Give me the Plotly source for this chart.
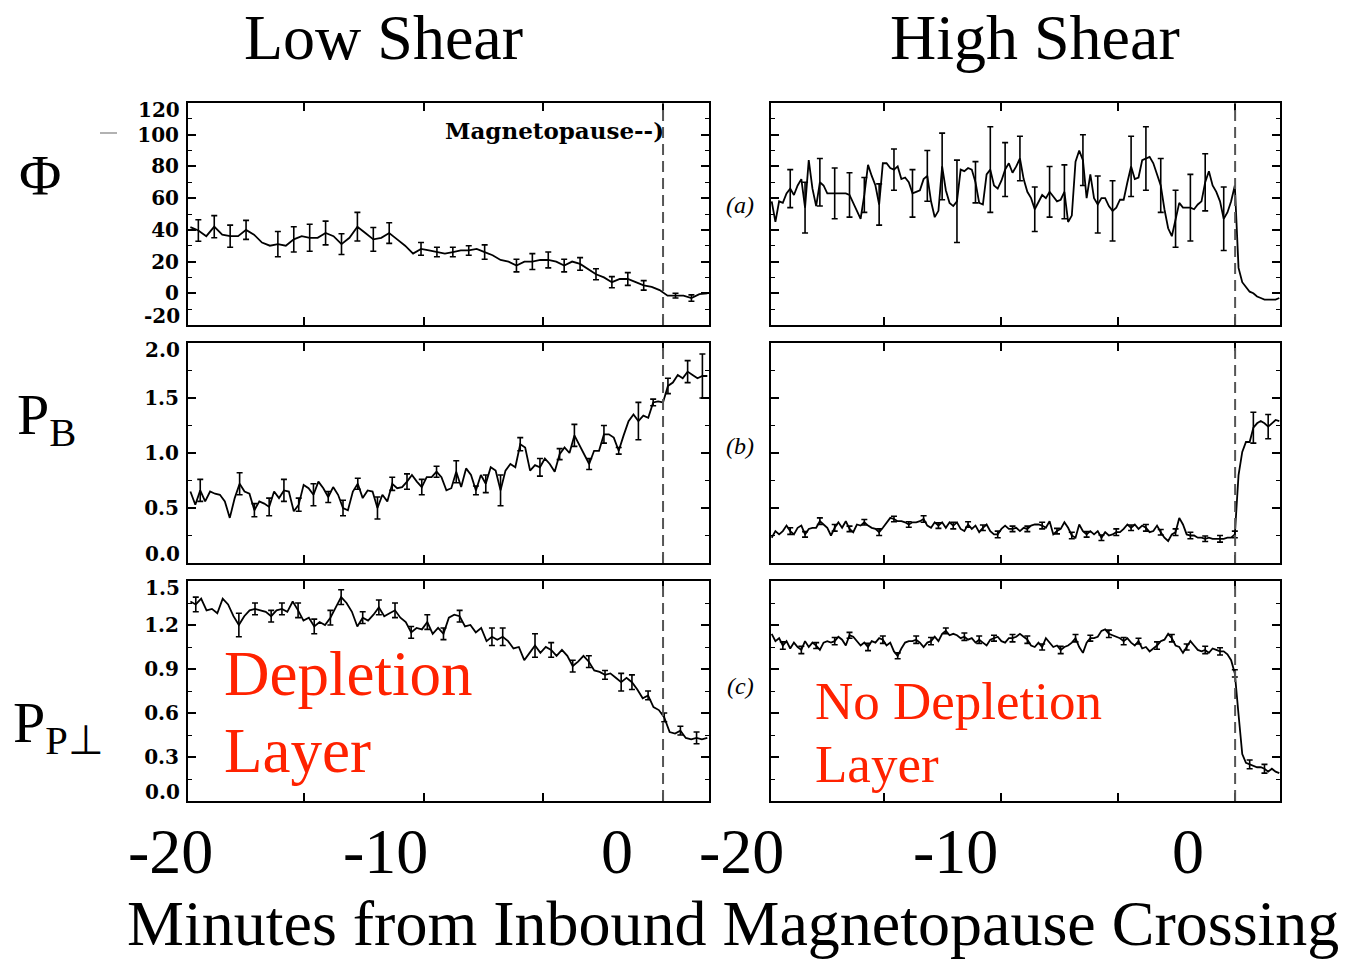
import numpy as np
import plotly.graph_objects as go

# ---------------- DATA ----------------
# Low shear (left column)
phi_low = [41.7, 39.6, 36, 42, 37, 36, 36, 40, 37, 32, 30, 31, 30, 34, 36, 35, 35, 38, 36, 31,
           35, 42, 38, 34, 35, 38, 34, 30, 25, 28, 27, 26, 25, 26, 27, 27, 28, 26, 24, 21,
           20, 17.5, 20, 20, 21, 21, 20, 17.5, 20, 18.5, 15, 12, 10, 7, 9, 9, 7, 5, 4, 2,
           -1.5, -1.5, -1.5, -3, -0.5, 0]
phi_low_err_idx = [1, 3, 5, 7, 11, 13, 15, 17, 19, 21, 23, 25, 29, 31, 33, 35, 37, 41, 43, 45,
                   47, 49, 51, 53, 55, 57, 61, 63]
phi_low_err = [6.8, 7, 7, 6, 8, 8, 8.5, 7.5, 6.5, 9, 7.5, 6.5, 4, 3, 3, 3, 4.5, 4, 5, 5,
               4, 4, 3.5, 3.5, 4, 3, 1.5, 2]

pb_low = [0.65, 0.53, 0.66, 0.56, 0.65, 0.63, 0.62, 0.56, 0.41, 0.59, 0.72, 0.65, 0.63, 0.48, 0.56,
          0.54, 0.51, 0.65, 0.59, 0.66, 0.65, 0.47, 0.53, 0.71, 0.68, 0.62, 0.74, 0.68, 0.60, 0.69,
          0.62, 0.50, 0.48, 0.65, 0.72, 0.59, 0.66, 0.65, 0.50, 0.62, 0.56, 0.72, 0.68, 0.69, 0.74,
          0.80, 0.74, 0.69, 0.78, 0.78, 0.83, 0.78, 0.66, 0.68, 0.83, 0.69, 0.86, 0.80, 0.66, 0.80,
          0.72, 0.87, 0.84, 0.66, 0.84, 0.90, 0.87, 1.08, 1.05, 0.84, 0.89, 0.87, 0.95, 0.90, 0.83,
          0.99, 1.05, 1.00, 1.16, 1.07, 0.98, 0.90, 1.02, 1.02, 1.17, 1.17, 1.14, 1.02, 1.16, 1.29,
          1.35, 1.29, 1.34, 1.32, 1.46, 1.47, 1.46, 1.61, 1.64, 1.71, 1.68, 1.74, 1.71, 1.68, 1.70,
          1.70]
pb_low_err_idx = [2, 10, 13, 16, 19, 22, 25, 28, 31, 34, 38, 41, 44, 47, 50, 54, 58, 60, 63, 67,
                  71, 75, 78, 81, 84, 87, 91, 94, 97, 101, 104]
pb_low_err = [0.1, 0.1, 0.06, 0.08, 0.1, 0.06, 0.1, 0.05, 0.07, 0.05, 0.1, 0.06, 0.07, 0.07, 0.05,
              0.1, 0.04, 0.08, 0.14, 0.06, 0.08, 0.05, 0.1, 0.05, 0.08, 0.03, 0.17, 0.03, 0.07, 0.1,
              0.2]

pp_low = [1.36, 1.34, 1.38, 1.30, 1.31, 1.28, 1.38, 1.34, 1.26, 1.20, 1.26, 1.30, 1.31, 1.30, 1.29,
          1.26, 1.30, 1.31, 1.29, 1.36, 1.30, 1.23, 1.25, 1.19, 1.22, 1.20, 1.25, 1.32, 1.39, 1.35,
          1.29, 1.19, 1.25, 1.23, 1.27, 1.32, 1.26, 1.28, 1.30, 1.25, 1.22, 1.15, 1.18, 1.17, 1.22,
          1.14, 1.18, 1.14, 1.25, 1.27, 1.26, 1.19, 1.20, 1.15, 1.18, 1.09, 1.12, 1.10, 1.12, 1.09,
          1.04, 1.05, 0.96, 1.01, 1.06, 1.01, 1.05, 1.03, 0.99, 1.03, 0.99, 0.92, 0.95, 0.99, 0.95,
          0.89, 0.88, 0.86, 0.87, 0.84, 0.81, 0.84, 0.81, 0.76, 0.70, 0.72, 0.64, 0.62, 0.57, 0.47,
          0.46, 0.48, 0.43, 0.42, 0.43, 0.42, 0.43]
pp_low_err_idx = [1, 9, 12, 15, 17, 20, 23, 26, 28, 32, 35, 38, 41, 44, 47, 50, 56, 58, 64, 67,
                  71, 74, 77, 80, 82, 85, 88, 91, 94]
pp_low_err = [0.05, 0.08, 0.04, 0.04, 0.04, 0.05, 0.05, 0.05, 0.05, 0.04, 0.05, 0.05, 0.04, 0.05,
              0.04, 0.04, 0.06, 0.06, 0.08, 0.05, 0.04, 0.04, 0.03, 0.06, 0.05, 0.03, 0.03, 0.03,
              0.04]

# High shear (right column)
phi_high = [58, 45, 58, 57, 63, 66, 62, 68, 72, 54, 84, 66, 55, 70, 68, 63, 63, 63, 63, 63,
            63, 62, 57, 52, 47, 62, 81, 74, 68, 56, 82, 82, 79, 78, 80, 72, 73, 70, 63, 64,
            65, 72, 74, 58, 48, 52, 80, 65, 57, 55, 58, 78, 77, 79, 78, 70, 57, 56, 75, 78,
            68, 66, 71, 78, 82, 76, 80, 85, 72, 64, 60, 53, 58, 62, 60, 64, 61, 58, 59, 64,
            45, 49, 83, 90, 84, 60, 75, 60, 56, 60, 60, 55, 52, 54, 59, 59, 70, 80, 72, 73,
            84, 85, 86, 82, 75, 68, 53, 41, 36, 47, 57, 54, 54, 54, 53, 56, 58, 70, 77, 68,
            64, 58, 47, 51, 58, 68, 16, 7, 4, 1, 0, -2, -3, -4, -4, -4, -4, -3]
phi_high_err_idx = [5, 9, 13, 17, 21, 25, 29, 33, 38, 42, 46, 50, 55, 59, 63, 67, 71, 75, 79, 84,
                    88, 92, 97, 101, 105, 109, 113, 117, 122]
phi_high_err = [12, 16, 15, 16, 14, 11, 13, 13, 15, 16, 21, 26, 13, 27, 17, 14, 14, 16, 17, 16,
                18, 19, 19, 20, 17, 18, 21, 18, 20]

pb_high = [0.23, 0.29, 0.26, 0.29, 0.34, 0.29, 0.26, 0.32, 0.34, 0.26, 0.31, 0.32, 0.32, 0.38, 0.35,
           0.32, 0.25, 0.32, 0.37, 0.32, 0.38, 0.31, 0.28, 0.35, 0.34, 0.37, 0.34, 0.32, 0.31, 0.28,
           0.32, 0.37, 0.41, 0.40, 0.38, 0.38, 0.37, 0.35, 0.37, 0.37, 0.38, 0.40, 0.34, 0.32, 0.37,
           0.34, 0.37, 0.32, 0.37, 0.34, 0.37, 0.31, 0.29, 0.35, 0.31, 0.34, 0.28, 0.32, 0.35, 0.29,
           0.26, 0.26, 0.31, 0.34, 0.31, 0.31, 0.32, 0.29, 0.32, 0.31, 0.34, 0.35, 0.35, 0.34, 0.32,
           0.38, 0.26, 0.29, 0.31, 0.37, 0.32, 0.25, 0.23, 0.35, 0.29, 0.26, 0.29, 0.26, 0.29, 0.23,
           0.28, 0.25, 0.26, 0.28, 0.28, 0.31, 0.35, 0.32, 0.35, 0.31, 0.34, 0.32, 0.28, 0.29, 0.34,
           0.28, 0.23, 0.20, 0.26, 0.28, 0.41, 0.35, 0.26, 0.25, 0.25, 0.23, 0.23, 0.22, 0.23, 0.22,
           0.22, 0.22, 0.22, 0.23, 0.23, 0.26, 0.80, 1.01, 1.10, 1.10, 1.23, 1.27, 1.29, 1.27, 1.24,
           1.27, 1.30, 1.29]
pb_high_err_idx = [5, 9, 13, 17, 21, 25, 29, 33, 37, 41, 45, 49, 53, 57, 61, 65, 69, 73, 77, 81,
                   85, 89, 93, 97, 101, 105, 109, 113, 117, 121, 125, 130, 134]
pb_high_err = [0.03, 0.025, 0.03, 0.03, 0.025, 0.025, 0.03, 0.025, 0.025, 0.03, 0.025, 0.03, 0.025,
               0.025, 0.03, 0.025, 0.025, 0.03, 0.025, 0.03, 0.025, 0.025, 0.03, 0.025, 0.03,
               0.025, 0.03, 0.03, 0.025, 0.03, 0.03, 0.14, 0.11]

pp_high = [1.14, 1.09, 1.11, 1.06, 1.09, 1.04, 1.08, 1.05, 1.03, 1.09, 1.05, 1.08, 1.06, 1.03, 1.08,
           1.09, 1.08, 1.09, 1.12, 1.10, 1.06, 1.13, 1.12, 1.09, 1.06, 1.08, 1.05, 1.09, 1.08, 1.11,
           1.10, 1.06, 1.08, 1.02, 0.99, 1.04, 1.08, 1.09, 1.09, 1.10, 1.08, 1.05, 1.08, 1.09, 1.12,
           1.09, 1.14, 1.16, 1.13, 1.14, 1.13, 1.11, 1.12, 1.10, 1.11, 1.08, 1.10, 1.08, 1.06, 1.10,
           1.11, 1.12, 1.09, 1.08, 1.11, 1.11, 1.12, 1.14, 1.12, 1.10, 1.06, 1.05, 1.08, 1.05, 1.11,
           1.08, 1.05, 1.06, 1.03, 1.05, 1.06, 1.08, 1.11, 1.05, 1.01, 1.08, 1.11, 1.11, 1.12, 1.16,
           1.17, 1.14, 1.13, 1.12, 1.11, 1.09, 1.11, 1.08, 1.06, 1.09, 1.04, 1.05, 1.02, 1.04, 1.06,
           1.09, 1.10, 1.14, 1.11, 1.06, 1.05, 1.01, 1.05, 1.09, 1.06, 1.03, 1.02, 1.03, 1.01, 1.04,
           1.03, 1.02, 1.02, 1.00, 0.96, 0.87, 0.59, 0.32, 0.26, 0.25, 0.24, 0.23, 0.23, 0.22, 0.20,
           0.22, 0.20, 0.19]
pp_high_err_idx = [3, 8, 12, 17, 21, 26, 30, 34, 39, 43, 47, 52, 56, 60, 65, 69, 73, 78, 82, 86,
                   91, 95, 99, 104, 108, 112, 117, 121, 125, 129, 133]
pp_high_err = [0.025, 0.025, 0.02, 0.025, 0.02, 0.025, 0.025, 0.02, 0.025, 0.025, 0.02, 0.025,
               0.025, 0.02, 0.025, 0.025, 0.02, 0.025, 0.025, 0.02, 0.025, 0.025, 0.02, 0.025,
               0.025, 0.02, 0.025, 0.025, 0.025, 0.03, 0.03]

# time spans (minutes from inbound magnetopause crossing) covered by each series
low_span = (-19.75, 1.85)
high_span = (-19.82, 1.89)
x_range = [-19.85, 1.92]

# tick labels (edge labels are drawn slightly inset, as in the original)
phi_tickvals = [0, 20, 40, 60, 80, 100]
phi_ticktext = ["0", "20", "40", "60", "80", "100"]
pb_tickvals = [0.5, 1.0, 1.5]
pb_ticktext = ["0.5", "1.0", "1.5"]
pp_tickvals = [0.3, 0.6, 0.9, 1.2]
pp_ticktext = ["0.3", "0.6", "0.9", "1.2"]
edge_labels = [("120", "-20"), ("2.0", "0.0"), ("1.5", "0.0")]
big_x_labels = ["-20", "-10", "0"]

# ---------------- FIGURE ----------------
W, H = 1359, 961
def px(x):
    return x / W
def py(y):
    return 1 - y / H

col_dom = [[px(188), px(709)], [px(771), px(1280)]]
row_top_bot = [(103, 325), (343, 563), (581, 801)]
row_dom = [[py(b), py(t)] for t, b in row_top_bot]

panels = [
    (phi_low, phi_low_err_idx, phi_low_err, low_span, 0, 0),
    (phi_high, phi_high_err_idx, phi_high_err, high_span, 0, 1),
    (pb_low, pb_low_err_idx, pb_low_err, low_span, 1, 0),
    (pb_high, pb_high_err_idx, pb_high_err, high_span, 1, 1),
    (pp_low, pp_low_err_idx, pp_low_err, low_span, 2, 0),
    (pp_high, pp_high_err_idx, pp_high_err, high_span, 2, 1),
]

yspec = [
    dict(range=[-20, 120], tickvals=phi_tickvals, ticktext=phi_ticktext, minor=dict(dtick=10, tick0=0)),
    dict(range=[0, 2.0], tickvals=pb_tickvals, ticktext=pb_ticktext, minor=dict(dtick=0.25, tick0=0)),
    dict(range=[0, 1.5], tickvals=pp_tickvals, ticktext=pp_ticktext, minor=dict(dtick=0.15, tick0=0)),
]

fig = go.Figure()
layout = dict(width=W, height=H, margin=dict(l=0, r=0, t=0, b=0),
              paper_bgcolor="white", plot_bgcolor="white", showlegend=False)

tickfont = dict(family="DejaVu Serif", size=20, color="black", weight="bold")

for k, (vals, eidx, evals, span, r, c) in enumerate(panels, start=1):
    n = len(vals)
    x = np.linspace(span[0], span[1], n)
    y = np.array(vals, dtype=float)
    xa = "x" if k == 1 else f"x{k}"
    ya = "y" if k == 1 else f"y{k}"
    fig.add_trace(go.Scatter(x=x, y=y, mode="lines", line=dict(color="black", width=1.8),
                             xaxis=xa, yaxis=ya, hoverinfo="skip"))
    ei = np.array(eidx, dtype=int)
    fig.add_trace(go.Scatter(x=x[ei], y=y[ei], mode="markers",
                             marker=dict(size=2, color="black", opacity=0),
                             error_y=dict(type="data", array=evals, visible=True, color="black",
                                          thickness=1.6, width=3),
                             xaxis=xa, yaxis=ya, hoverinfo="skip"))
    axbase = dict(showgrid=False, zeroline=False, showline=True, linecolor="black", linewidth=2,
                  mirror="allticks", ticks="inside", tickcolor="black", tickwidth=1.5)
    layout["xaxis" if k == 1 else f"xaxis{k}"] = dict(
        axbase, domain=col_dom[c], range=x_range, tickvals=[-15, -10, -5, 0], ticklen=8,
        showticklabels=False, anchor=ya)
    ys = dict(yspec[r])
    ys["minor"] = dict(ys["minor"], ticks="inside", ticklen=4, tickcolor="black", tickwidth=1.2)
    layout["yaxis" if k == 1 else f"yaxis{k}"] = dict(
        axbase, **ys, domain=row_dom[r], ticklen=8, showticklabels=(c == 0),
        tickfont=tickfont, ticklabelstandoff=3, anchor=xa)
    fig.add_shape(type="line", xref=xa, yref=f"{ya} domain", x0=0, x1=0, y0=0, y1=1,
                  line=dict(color="#555555", width=2, dash="11px,6px"))

fig.update_layout(**layout)

# small stray mark in the left margin of the original
fig.add_shape(type="line", xref="paper", yref="paper", x0=px(100), x1=px(117), y0=py(133), y1=py(133),
              line=dict(color="#999999", width=1.5))

serif = "Liberation Serif"
ann = []
def add(text, x, y, size, color="black", xanchor="center", yanchor="middle", family=serif, **kw):
    ann.append(dict(text=text, x=px(x), y=py(y), xref="paper", yref="paper", showarrow=False,
                    xanchor=xanchor, yanchor=yanchor,
                    font=dict(family=family, size=size, color=color, **kw)))

# inset edge tick labels of the left y axes
for (top_lab, bot_lab), (t, b) in zip(edge_labels, row_top_bot):
    add(top_lab, 182, t + 7, 20, xanchor="right", family="DejaVu Serif", weight="bold")
    add(bot_lab, 182, b - 9, 20, xanchor="right", family="DejaVu Serif", weight="bold")

add("Low Shear", 383, 0, 64, yanchor="top")
add("High Shear", 1035, 0, 64, yanchor="top")
add("Φ", 40, 175, 58)
add("P<sub>B</sub>", 46, 418, 58)
add("P<sub>P⊥</sub>", 58, 726, 58)
for lab, xx in zip(big_x_labels, [170, 385, 617]):
    add(lab, xx, 851, 64)
for lab, xx in zip(big_x_labels, [741, 955, 1188]):
    add(lab, xx, 851, 64)
add("Minutes from Inbound Magnetopause Crossing", 733, 961, 64, yanchor="bottom")
add("Depletion", 222, 674, 63, color="#FF2200", xanchor="left")
add("Layer", 222, 751, 63, color="#FF2200", xanchor="left")
add("No Depletion", 813, 701, 53, color="#FF2200", xanchor="left")
add("Layer", 813, 764, 53, color="#FF2200", xanchor="left")
add("(a)", 740, 205, 24, style="italic")
add("(b)", 740, 446, 24, style="italic")
add("(c)", 740, 686, 24, style="italic")
add("Magnetopause--)", 666, 131, 23, xanchor="right", family="DejaVu Serif", weight="bold")
fig.update_layout(annotations=ann)

fig.write_html("out.html")
